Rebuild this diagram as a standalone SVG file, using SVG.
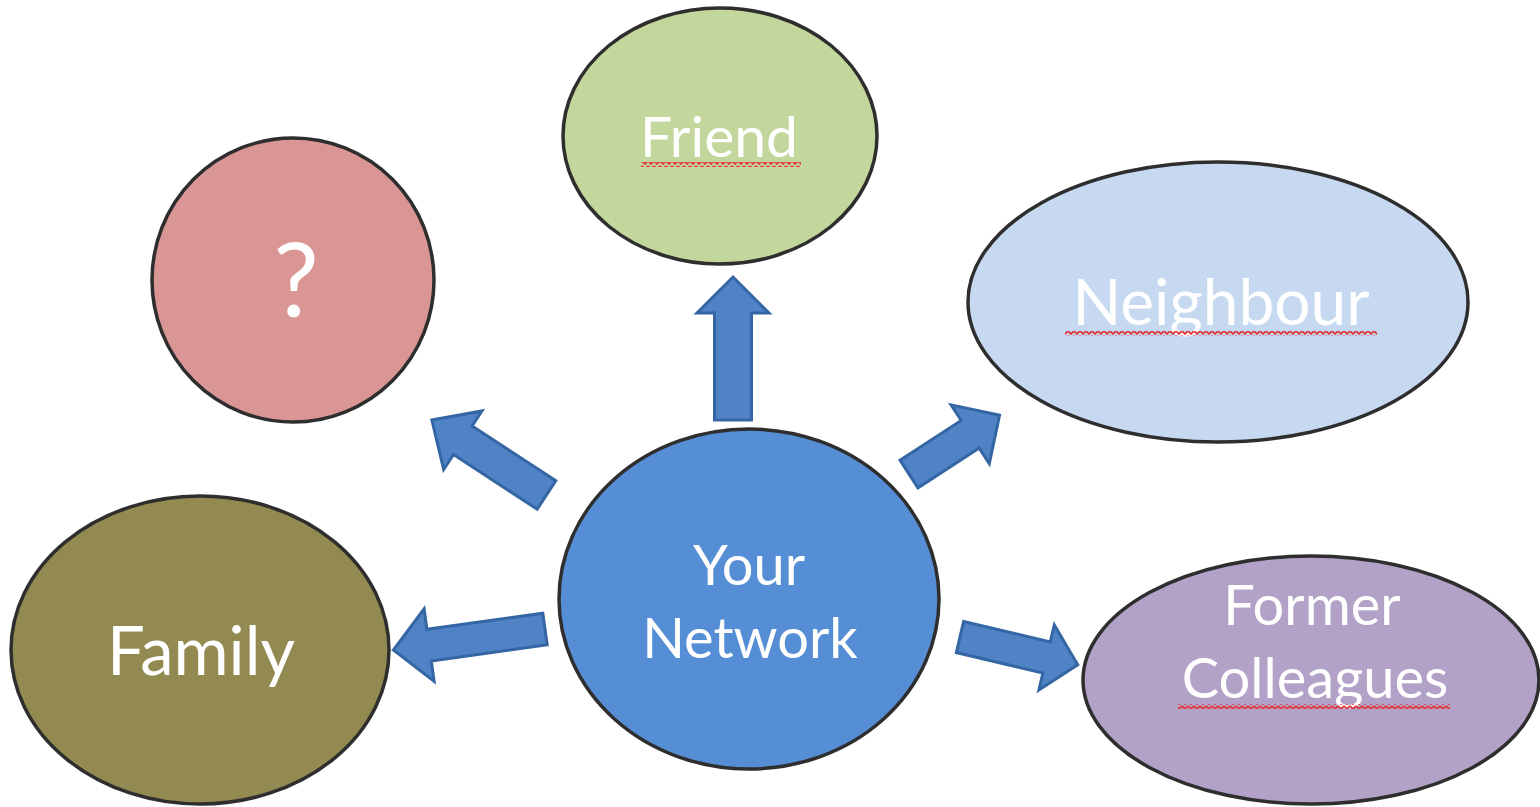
<svg xmlns="http://www.w3.org/2000/svg" width="1540" height="807" viewBox="0 0 1540 807">
<style>
.node{stroke:#2e2e2e;stroke-width:3.5}
.lbl{font-family:Lato,"Open Sans","Liberation Sans",sans-serif;fill:#ffffff;text-anchor:middle}
.arrow{fill:#4f83c6;stroke:#3466a3;stroke-width:3;stroke-linejoin:miter}
</style>
<defs>
<pattern id="squig" width="6" height="5" patternUnits="userSpaceOnUse">
<polyline points="0,1 3,4 6,1" fill="none" stroke="#e0393e" stroke-width="1.8"/>
</pattern>
</defs>
<rect width="1540" height="807" fill="#ffffff"/>
<g id="connectors">
<path class="arrow" transform="translate(733,420) rotate(-90)" d="M0,-18.5 L107,-18.5 L107,-36 L143,0 L107,36 L107,18.5 L0,18.5Z"/>
<path class="arrow" transform="translate(546.5,495) rotate(213.2)" d="M0,-17 L100,-17 L100,-35 L137,0 L100,35 L100,17 L0,17Z"/>
<path class="arrow" transform="translate(909,474) rotate(-33)" d="M0,-16.5 L73,-16.5 L73,-35 L108,0 L73,35 L73,16.5 L0,16.5Z"/>
<path class="arrow" transform="translate(545,629) rotate(172.1)" d="M0,-16 L117,-16 L117,-36.5 L153,0 L117,36.5 L117,16 L0,16Z"/>
<path class="arrow" transform="translate(960,637) rotate(13.3)" d="M0,-16 L89,-16 L89,-33.5 L121,0 L89,33.5 L89,16 L0,16Z"/>
</g>
<g id="friend">
<ellipse class="node" cx="720" cy="136" rx="157" ry="128" fill="#c3d69b"/>
<text class="lbl" x="719" y="157" font-size="57">Friend</text>
<rect x="641" y="162" width="160" height="5" fill="url(#squig)"/>
</g>
<g id="question">
<ellipse class="node" cx="293" cy="280" rx="141" ry="142" fill="#d99694"/>
<text class="lbl" x="296" y="317" font-size="102">?</text>
</g>
<g id="neighbour">
<ellipse class="node" cx="1218" cy="302" rx="250" ry="140" fill="#c6d9f1"/>
<text class="lbl" x="1221" y="325" font-size="64">Neighbour</text>
<rect x="1065" y="331" width="312" height="5" fill="url(#squig)"/>
</g>
<g id="family">
<ellipse class="node" cx="200" cy="650" rx="189" ry="154" fill="#938a52"/>
<text class="lbl" x="201" y="675" font-size="67">Family</text>
</g>
<g id="your-network">
<ellipse class="node" cx="749" cy="599" rx="190" ry="170" fill="#558ed5"/>
<text class="lbl" x="749" y="585" font-size="56">Your</text>
<text class="lbl" x="750" y="658" font-size="56">Network</text>
</g>
<g id="former-colleagues">
<ellipse class="node" cx="1311" cy="680" rx="228" ry="124" fill="#b3a2c7"/>
<text class="lbl" x="1312" y="625" font-size="56">Former</text>
<text class="lbl" x="1315" y="698" font-size="56">Colleagues</text>
<rect x="1178" y="704" width="272" height="5" fill="url(#squig)"/>
</g>
</svg>
